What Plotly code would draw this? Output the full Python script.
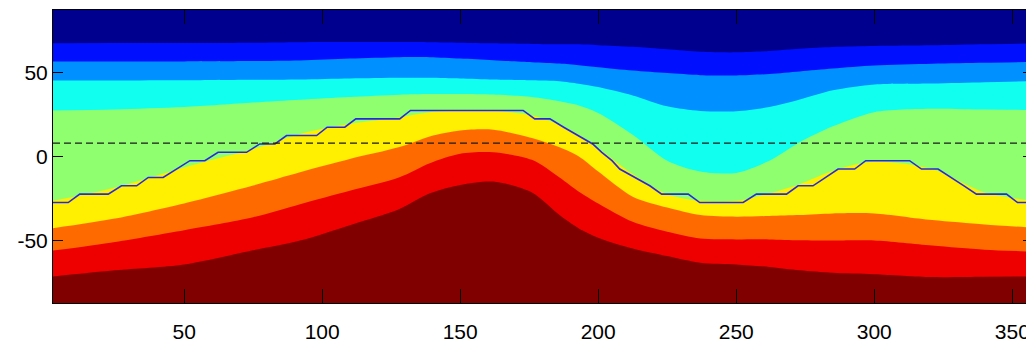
import plotly.graph_objects as go

# ---- data ----
lon_pts = [2.5, 25, 50, 75, 92, 110, 128, 139, 150, 162, 176, 186, 193, 200, 212.5,
           225, 237, 250, 262, 273, 285, 300, 321, 340, 357.5]

# band boundaries (latitude) from top to bottom
b1 = [67.7, 67.8, 67.8, 68.0, 68.3, 68.4, 68.4, 68.3, 68.0, 67.6, 67.2, 67.0, 67.0, 66.5, 65.5,
      64.0, 62.5, 62.2, 63.0, 64.3, 65.4, 66.0, 66.4, 67.0, 67.5]
b2 = [56.8, 56.8, 56.8, 57.0, 57.3, 58.5, 59.3, 59.3, 58.5, 57.5, 56.3, 55.5, 54.5, 53.3, 51.3,
      49.8, 48.6, 48.4, 49.3, 50.8, 52.5, 54.3, 55.4, 56.0, 56.5]
b3 = [45.4, 45.4, 45.5, 45.8, 46.0, 46.6, 47.0, 47.0, 46.6, 46.0, 45.5, 45.0, 43.5, 41.5, 36.5,
      30.0, 27.2, 27.0, 29.5, 34.0, 39.5, 43.0, 43.6, 44.4, 45.0]
b4 = [27.5, 28.1, 29.5, 32.2, 33.9, 35.5, 36.9, 37.3, 37.3, 37.0, 35.5, 33.0, 30.5, 26.0, 13.0,
      -2.5, -9.0, -9.8, -2.5, 8.5, 18.0, 26.5, 28.5, 28.0, 27.8]
b5 = [-26.5, -18.5, -6.5, 4.5, 13.5, 19.5, 23.5, 26.5, 27.3, 27.3, 24.5, 19.0, 13.0, 5.0, -10.5,
      -22.5, -26.5, -26.5, -22.0, -16.5, -8.5, -3.0, -7.5, -21.5, -26.5]
b6 = [-42.8, -37.0, -28.0, -17.3, -9.4, -1.5, 5.6, 12.0, 15.5, 16.0, 11.0, 5.5, 0.0, -9.0, -24.0,
      -30.5, -35.0, -36.0, -35.5, -35.0, -34.0, -34.0, -38.0, -40.6, -42.5]
b7 = [-56.2, -51.0, -44.0, -36.3, -28.5, -20.5, -12.4, -4.0, 1.6, 2.5, -2.0, -12.5, -21.0, -28.0, -39.0,
      -45.0, -49.0, -49.5, -49.5, -50.0, -50.2, -50.2, -53.2, -55.7, -56.8]
b8 = [-71.7, -68.0, -64.5, -56.0, -50.2, -41.0, -31.3, -22.0, -17.0, -15.0, -21.5, -35.0, -43.0, -48.5, -55.0,
      -59.5, -63.5, -64.5, -66.0, -68.0, -69.5, -70.3, -72.0, -71.8, -71.7]

band_colors = ["#00008F", "#0010FF", "#0090FF", "#10FFEF", "#8FFF70",
               "#FFEF00", "#FF6A00", "#EE0000", "#800000"]

line_lon = [2.5, 8.0, 12.2, 22.5, 27.3, 32.8, 37.0, 42.4, 52.1, 57.5, 62.3, 72.6, 77.4, 82.9, 87.1,
            98.0, 101.8, 108.2, 112.2, 128.1, 132.0, 172.8, 177.0, 182.5, 187.5, 192.6, 198.0, 201.3,
            205.0, 207.8, 213.3, 218.7, 223.0, 232.6, 236.8, 252.5, 257.3, 268.2, 272.4, 277.8, 282.4,
            286.9, 292.9, 296.9, 312.8, 317.1, 323.1, 328.0, 332.5, 337.0, 347.9, 351.9, 357.5]
line_lat = [-27.5, -27.5, -22.5, -22.5, -17.5, -17.5, -12.5, -12.5, -2.5, -2.5, 2.5, 2.5, 7.5, 7.5, 12.5,
            12.5, 17.5, 17.5, 22.5, 22.5, 27.5, 27.5, 22.5, 22.5, 17.5, 12.5, 7.5, 2.5,
            -2.5, -7.5, -12.5, -17.5, -22.5, -22.5, -27.5, -27.5, -22.5, -22.5, -17.5, -17.5, -12.5,
            -7.5, -7.5, -2.5, -2.5, -7.5, -7.5, -12.5, -17.5, -22.5, -22.5, -27.5, -27.5]

dash_lat = 8
x_range = [2.5, 357.5]
y_range = [-87.5, 87.5]
x_ticks = [50, 100, 150, 200, 250, 300, 350]
y_ticks = [-50, 0, 50]
y_ticktext = ["-50", "0", "50"]

# ---- figure ----
fig = go.Figure()
boundaries = [b1, b2, b3, b4, b5, b6, b7, b8]
base = [y_range[0]] * len(lon_pts)
for i, b in enumerate(boundaries):
    fig.add_trace(go.Scatter(x=lon_pts, y=base, mode="lines", line=dict(width=0),
                             hoverinfo="skip", showlegend=False))
    fig.add_trace(go.Scatter(x=lon_pts, y=b, mode="lines",
                             line=dict(width=0, shape="spline", smoothing=0.8),
                             fill="tonexty", fillcolor=band_colors[i + 1],
                             hoverinfo="skip", showlegend=False))

fig.add_trace(go.Scatter(x=line_lon, y=line_lat, mode="lines",
                         line=dict(color="rgb(40,40,225)", width=1.6),
                         hoverinfo="skip", showlegend=False))
fig.add_trace(go.Scatter(x=x_range, y=[dash_lat, dash_lat], mode="lines",
                         line=dict(color="#1a1a1a", width=1.3, dash="7px,4px"),
                         hoverinfo="skip", showlegend=False))

# the page body has an 8px default margin, so the figure is sized/offset to compensate
font = dict(family="Liberation Sans, Arial", size=21, color="black")
fig.update_layout(
    width=1026, height=339,
    margin=dict(l=45, r=1, t=2, b=44, autoexpand=False),
    paper_bgcolor="white", plot_bgcolor=band_colors[0],
    showlegend=False, font=font,
)
fig.update_xaxes(range=x_range, tickvals=x_ticks, ticks="inside", ticklen=14, tickwidth=1,
                 tickcolor="black", showline=True, linecolor="black", linewidth=1, mirror="ticks",
                 showgrid=False, zeroline=False, tickfont=font, ticklabelstandoff=10,
                 automargin=False)
fig.update_yaxes(range=y_range, tickvals=y_ticks, ticktext=y_ticktext, ticks="inside", ticklen=10,
                 tickwidth=1, tickcolor="black", showline=True, linecolor="black", linewidth=1,
                 mirror="ticks", showgrid=False, zeroline=False, tickfont=font, ticklabelstandoff=0,
                 automargin=False)

fig.write_html("out.html")
